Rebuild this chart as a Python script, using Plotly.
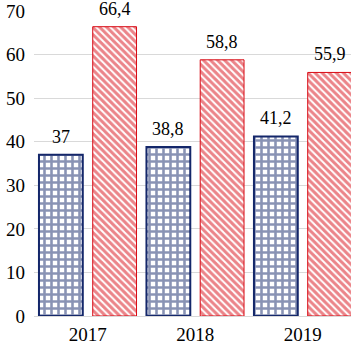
import plotly.graph_objects as go

categories = ["2017", "2018", "2019"]
series_blue = [37, 38.8, 41.2]
series_red = [66.4, 58.8, 55.9]
y_ticks = [0, 10, 20, 30, 40, 50, 60, 70]

BLUE = "#14276A"
RED = "#D80A14"
FONT = "Liberation Serif, Times New Roman, serif"

def fmt(v):
    return ("%g" % v).replace(".", ",")

fig = go.Figure()
fig.add_trace(go.Bar(
    x=categories, y=series_blue, name="A",
    marker=dict(color="white", line=dict(color=BLUE, width=2),
                pattern=dict(shape="+", fgcolor=BLUE, bgcolor="white",
                             size=7, solidity=0.6)),
))
fig.add_trace(go.Bar(
    x=categories, y=series_red, name="B",
    marker=dict(color="white", line=dict(color=RED, width=1),
                pattern=dict(shape="\\", fgcolor=RED, bgcolor="white",
                             size=5, solidity=0.6)),
))

annotations = []
for i, (vb, vr) in enumerate(zip(series_blue, series_red)):
    annotations.append(dict(x=i - 0.25, y=vb, xref="x", yref="y", text=fmt(vb),
                            yshift=6, showarrow=False, yanchor="bottom",
                            font=dict(family=FONT, size=18, color="black")))
    annotations.append(dict(x=i + 0.25, y=vr, xref="x", yref="y", text=fmt(vr),
                            yshift=6, showarrow=False, yanchor="bottom",
                            font=dict(family=FONT, size=18, color="black")))

fig.update_layout(
    width=351, height=345,
    margin=dict(l=34, r=0, t=11, b=29, autoexpand=False),
    paper_bgcolor="white", plot_bgcolor="white",
    barmode="group", bargap=0, bargroupgap=0.185,
    showlegend=False,
    annotations=annotations,
    font=dict(family=FONT, size=18, color="black"),
)
fig.update_xaxes(type="category", range=[-0.5, 2.449], showgrid=False,
                 showline=False, ticks="", automargin=False, ticklabelstandoff=5,
                 tickfont=dict(family=FONT, size=19, color="black"))
fig.update_yaxes(range=[0, 70], tickvals=y_ticks, showgrid=True,
                 gridcolor="#D9D9D9", gridwidth=1, zeroline=True,
                 zerolinecolor="#D9D9D9", zerolinewidth=1, showline=False,
                 ticks="", ticklabelstandoff=8, automargin=False,
                 tickfont=dict(family=FONT, size=19, color="black"))

fig.write_html("out.html", config={"displayModeBar": False},
               post_script="document.body.style.margin='0';document.body.style.overflow='hidden';")
